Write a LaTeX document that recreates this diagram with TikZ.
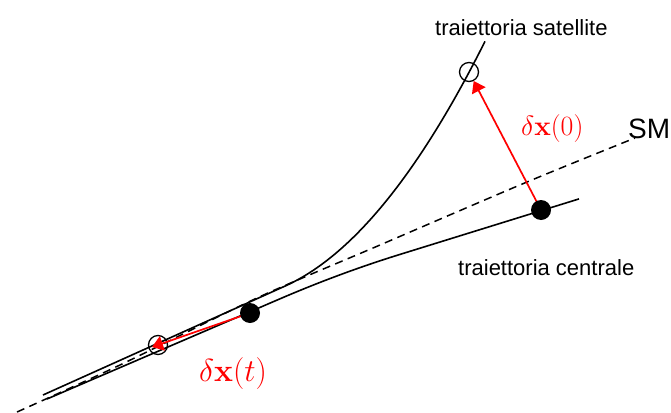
\documentclass[tikz,border=0pt]{standalone}
\usepackage[no-math]{fontspec}
\setmainfont{Liberation Sans}
\usetikzlibrary{arrows.meta}
\begin{document}
\begin{tikzpicture}[x=1pt,y=-1pt,
  traj/.style={line width=1.6pt},
  smline/.style={line width=1.5pt, dash pattern=on 8pt off 5.5pt},
  dot/.style={circle, fill=black, minimum size=20pt, inner sep=0pt},
  ring/.style={circle, draw=black, line width=1.3pt, minimum size=19pt, inner sep=0pt},
  vec/.style={draw=red, line width=1.7pt, -{Triangle[length=11pt,width=15pt]}},
  lbl/.style={font=\fontsize{22}{26}\selectfont, inner sep=0pt, anchor=base west},
  smlbl/.style={font=\fontsize{28}{32}\selectfont, inner sep=0pt, anchor=base west},
  vlbl/.style={text=red, inner sep=0pt, anchor=base west}]
\useasboundingbox (0,0) rectangle (671,412);

% stable manifold (dashed)
\draw[smline] plot[smooth, tension=0.5] coordinates {(17,412) (120,365) (257,298) (380,245) (527,182) (635,138)};
% satellite trajectory
\draw[traj] plot[domain=43:485, samples=120, smooth] (\x, {395-0.45*(\x-43)-(0.0622*max(\x-285,0))^2});
% central trajectory
\draw[traj] plot[domain=47:579, samples=120, smooth] (\x, {399-0.43*(\x-47)+(0.02236*min(max(\x-280,0),120))^2+0.12*max(\x-400,0)});

\node[ring] (c1) at (469,72) {};
\node[ring] (c2) at (158,345) {};
\coordinate (tip2) at (152,347);

\draw[vec] (541,210) coordinate (d2c) -- (c1);
\draw[vec] (250,313) coordinate (d1c) -- (tip2);

\node[dot] (d1) at (d1c) {};
\node[dot] (d2) at (d2c) {};

\node[lbl] (ts) at (435,36) {traiettoria satellite};
\node[lbl] (tc) at (458,275) {traiettoria centrale};
\node[smlbl] (sm) at (628,138) {SM};
\node[vlbl] (v0) at (521,135) {\scalebox{1.12}{\Huge$\delta\mathbf{x}(0)$}};
\node[vlbl] (vt) at (199,381) {\scalebox{1.28}{\Huge$\delta\mathbf{x}(t)$}};
\end{tikzpicture}
\end{document}
